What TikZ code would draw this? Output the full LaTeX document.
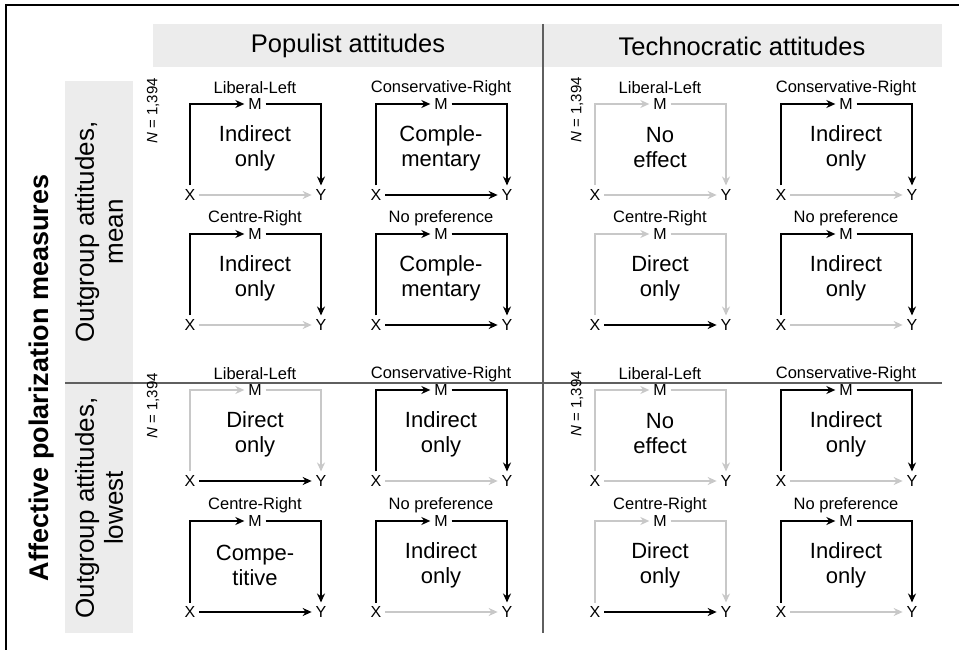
\documentclass[tikz,border=0pt]{standalone}
\usepackage{fontspec}
\setmainfont{Liberation Sans}
\usetikzlibrary{arrows.meta}
\definecolor{lgray}{RGB}{200,200,200}
\definecolor{barfill}{RGB}{236,236,236}
\definecolor{rulegray}{RGB}{95,95,95}

\begin{document}
\begin{tikzpicture}[x=1pt,y=-1pt,
  var/.style={font=\fontsize{16}{18}\selectfont,inner sep=3pt,outer sep=1pt},
  grp/.style={font=\fontsize{16.5}{19}\selectfont,inner sep=0pt},
  res/.style={font=\fontsize{22}{25}\selectfont,align=center,inner sep=0pt},
  sig/.style={draw=black,line width=2.1pt,-{Stealth[length=9pt,width=8pt]}},
  ns/.style={draw=lgray,line width=1.8pt,-{Stealth[length=9pt,width=8pt]}},
  head/.style={font=\fontsize{25.5}{29}\selectfont},
  side/.style={font=\fontsize{26}{29}\selectfont,align=center,rotate=90},
  nlab/.style={font=\fontsize{15}{17}\selectfont,rotate=90}]
  \useasboundingbox (0,0) rectangle (959,650);
  % frame and grey bars
  \draw[line width=2.5pt] (6,650) -- (6,5) -- (959,5);
  \fill[barfill] (153,24) rectangle (942,67);
  \fill[barfill] (65,81) rectangle (133,633);
  \draw[rulegray,line width=1.2pt] (543,24) -- (543,633);
  \draw[rulegray,line width=1.2pt] (65,383) -- (942,383);
  % headers
  \node[head] (pop) at (348,46) {Populist attitudes};
  \node[head] (tech) at (742,46) {Technocratic attitudes};
  \node[side,font=\bfseries\fontsize{27}{30}\selectfont] (apm) at (42,378) {Affective polarization measures};
  \node[side] (mean) at (99,232) {Outgroup attitudes,\\mean};
  \node[side] (low) at (99,508) {Outgroup attitudes,\\lowest};
  \node[nlab] (n1) at (153,111) {\textit{N} = 1,394};
  \node[nlab] (n2) at (577,110) {\textit{N} = 1,394};
  \node[nlab] (n3) at (153,406) {\textit{N} = 1,394};
  \node[nlab] (n4) at (577,404) {\textit{N} = 1,394};
  % mediation panels
  \foreach \px/\py/\grp/\res/\a/\b/\c [count=\i] in {
    190/195/Liberal-Left/{Indirect\\only}/sig/sig/ns,
    376/195/Conservative-Right/{Comple-\\mentary}/sig/sig/sig,
    190/325/Centre-Right/{Indirect\\only}/sig/sig/ns,
    376/325/No preference/{Comple-\\mentary}/sig/sig/sig,
    595/195/Liberal-Left/{No\\effect}/ns/ns/ns,
    781/195/Conservative-Right/{Indirect\\only}/sig/sig/ns,
    595/325/Centre-Right/{Direct\\only}/ns/ns/sig,
    781/325/No preference/{Indirect\\only}/sig/sig/ns,
    190/481/Liberal-Left/{Direct\\only}/ns/ns/sig,
    376/481/Conservative-Right/{Indirect\\only}/sig/sig/ns,
    190/612/Centre-Right/{Compe-\\titive}/sig/sig/sig,
    376/612/No preference/{Indirect\\only}/sig/sig/ns,
    595/481/Liberal-Left/{No\\effect}/ns/ns/ns,
    781/481/Conservative-Right/{Indirect\\only}/sig/sig/ns,
    595/612/Centre-Right/{Direct\\only}/ns/ns/sig,
    781/612/No preference/{Indirect\\only}/sig/sig/ns} {
    \node[var] (x\i) at (\px,\py) {X};
    \node[var] (m\i) at (\px+65,\py-91) {M};
    \node[var] (y\i) at (\px+131,\py) {Y};
    \node[grp] (g\i) at (\px+65,\py-107) {\grp};
    \node[res] (r\i) at (\px+65,\py-47) {\res};
    \draw[\a] (x\i.north) |- (m\i.west);
    \draw[\b] (m\i.east) -| (y\i.north);
    \draw[\c] (x\i.east) -- (y\i.west);
  }
\end{tikzpicture}
\end{document}
